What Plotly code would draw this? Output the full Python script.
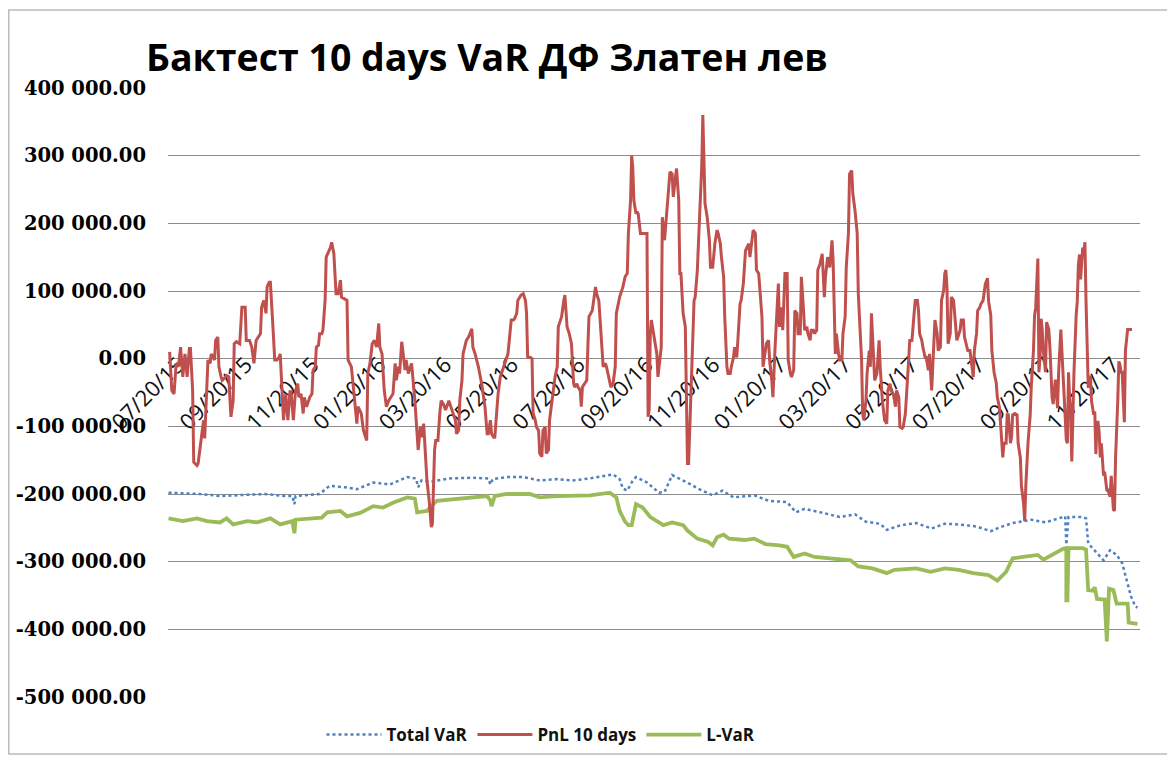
import pandas as pd
import plotly.graph_objects as go

# ---------------- data (day offsets from 2015-07-20, values in thousands) -------------
base_date = "2015-07-20"

pnl_day = [-4, -2, 0, 2, 4, 6, 8, 10, 12, 14, 15, 17, 18, 21, 22, 24, 25, 27, 28, 30, 31, 33, 34, 37, 38, 40, 41, 43, 44, 47, 48, 50, 52, 54, 55, 57, 60, 62, 65, 66, 69, 71, 73, 75, 77, 79, 80, 82, 84, 85, 87, 88, 90, 92, 94, 96, 97, 99, 100, 102, 104, 106, 107, 109, 111, 113, 114, 116, 118, 119, 121, 123, 124, 126, 127, 129, 130, 132, 133, 135, 136, 138, 139, 143, 144, 146, 148, 150, 152, 153, 158, 159, 162, 165, 167, 168, 171, 173, 174, 176, 177, 179, 181, 183, 185, 187, 188, 190, 192, 194, 196, 198, 200, 202, 203, 205, 206, 208, 211, 212, 214, 217, 219, 220, 222, 223, 225, 226, 228, 229, 231, 233, 235, 236, 238, 239, 241, 243, 244, 246, 248, 251, 253, 255, 257, 258, 260, 261, 263, 264, 266, 267, 269, 270, 272, 273, 275, 278, 281, 284, 286, 287, 289, 290, 292, 293, 295, 296, 298, 301, 304, 305, 308, 310, 311, 313, 314, 317, 319, 321, 322, 323, 325, 327, 328, 330, 331, 333, 334, 336, 337, 339, 340, 342, 343, 345, 346, 348, 350, 351, 353, 354, 356, 357, 358, 359, 361, 363, 365, 366, 368, 369, 371, 372, 373, 375, 377, 378, 379, 382, 383, 385, 386, 388, 390, 391, 392, 394, 395, 397, 399, 401, 403, 404, 406, 407, 410, 412, 414, 415, 417, 418, 419, 420, 422, 423, 424, 426, 432, 433, 434, 435, 436, 438, 439, 441, 442, 443, 445, 446, 448, 449, 451, 453, 455, 456, 458, 459, 461, 462, 463, 464, 465, 467, 468, 469, 470, 472, 473, 475, 476, 478, 480, 482, 483, 484, 485, 487, 489, 490, 492, 494, 496, 497, 499, 500, 502, 503, 505, 506, 508, 509, 511, 512, 514, 515, 517, 518, 520, 522, 525, 526, 528, 529, 531, 532, 534, 535, 537, 538, 540, 541, 543, 544, 546, 547, 549, 550, 552, 553, 555, 556, 558, 560, 561, 563, 564, 566, 567, 569, 570, 572, 573, 575, 576, 578, 579, 581, 582, 584, 585, 587, 588, 590, 592, 594, 595, 597, 599, 601, 602, 604, 605, 607, 608, 610, 611, 613, 614, 616, 617, 619, 620, 622, 624, 625, 627, 628, 629, 630, 632, 633, 635, 636, 637, 639, 640, 642, 644, 645, 647, 649, 651, 652, 654, 655, 657, 659, 660, 662, 663, 665, 666, 668, 669, 671, 672, 674, 676, 677, 679, 680, 681, 683, 684, 686, 687, 689, 690, 692, 693, 695, 697, 698, 700, 701, 703, 704, 705, 706, 707, 709, 710, 712, 713, 715, 716, 718, 719, 721, 722, 724, 725, 727, 728, 730, 731, 733, 734, 736, 737, 739, 741, 743, 744, 746, 747, 749, 751, 752, 754, 755, 757, 758, 760, 761, 762, 764, 765, 766, 768, 770, 771, 773, 774, 776, 777, 778, 779, 780, 782, 783, 785, 786, 787, 788, 789, 790, 791, 792, 793, 794, 795, 796, 797, 799, 800, 801, 802, 803, 804, 805, 807, 808, 810, 811, 813, 814, 815, 816, 817, 818, 819, 820, 821, 822, 824, 825, 826, 827, 828, 830, 831, 832, 833, 834, 835, 836, 837, 838, 840, 841, 842, 843, 844, 845, 846, 847, 849, 850, 851, 852, 853, 855, 856, 857, 858, 859, 860, 862, 863, 864, 865, 866, 867, 868, 869, 871, 873, 875]
pnl_k = [10, -47, -52, -7, -12, 17, -27, 7, -27, 15, 15, -47, -153, -158, -155, -126, -116, -91, -118, -52, -2, -7, 7, -2, 27, 32, -12, -27, -32, -27, -25, -27, -86, -62, 22, 25, 22, 76, 76, 27, 27, 17, -7, 27, 32, 37, 76, 86, 67, 106, 113, 113, 57, -2, -2, 2, 7, -47, -91, -52, -91, -47, -52, -91, -47, -37, -57, -52, -81, -57, -71, -62, -57, -52, -17, -12, 17, 20, 37, 37, 42, 86, 150, 165, 172, 155, 96, 96, 116, 91, 86, -2, -12, -62, -96, -71, -81, -106, -111, -121, -22, -7, 22, 27, 17, 52, 17, 7, -47, -71, -62, -57, -52, -7, -32, -12, -22, 25, -17, -2, -22, -7, -37, -62, -111, -135, -101, -116, -96, -126, -180, -209, -249, -244, -135, -121, -121, -76, -62, -67, -76, -62, -71, -81, -91, -111, -106, -62, -32, 7, 22, 27, 32, 37, 44, 17, 7, -12, -37, -71, -111, -111, -91, -111, -116, -116, -76, -52, -27, -12, 2, 7, 57, 57, 59, 67, 86, 94, 96, 86, 67, 2, 2, 0, -81, -91, -101, -106, -140, -145, -106, -101, -140, -135, -91, -67, -52, -27, -12, 47, 57, 62, 86, 94, 71, 47, 37, 22, -37, -42, -37, -42, -47, -71, -42, -37, -32, 17, 62, 71, 86, 106, 96, 86, 37, 12, -12, -7, -12, -27, -42, -37, -12, 67, 81, 91, 106, 121, 126, 185, 234, 300, 283, 234, 214, 217, 214, 185, 185, -86, -76, 37, 57, 37, 25, 7, -27, -12, 17, 209, 175, 195, 234, 276, 273, 239, 268, 281, 234, 126, 126, 86, 67, 47, -62, -155, -155, -57, 12, 86, 91, 131, 209, 283, 360, 293, 229, 209, 175, 135, 135, 170, 190, 185, 170, 150, 121, 62, -12, -22, -22, -12, 2, 17, 2, 27, 81, 86, 111, 160, 170, 150, 175, 190, 185, 131, 126, 106, 62, -12, 7, 22, 27, -2, -32, -57, 17, 47, 111, 47, 76, 42, 126, 126, -2, -22, -27, -17, 71, 67, 37, 37, 121, 71, 42, 47, 37, 27, 42, 42, 37, 42, 131, 140, 155, 91, 121, 150, 135, 175, 145, 7, 37, 7, -2, -2, 37, 62, 135, 185, 273, 278, 244, 219, 185, 96, 37, -2, -81, -91, -62, -22, 12, -12, 67, -12, -32, -22, 27, -12, -62, -91, -96, -47, -37, -47, -52, -71, -47, -57, -101, -103, -101, -81, -47, -2, 27, 27, 67, 86, 86, 71, 37, 27, 17, 2, 2, -17, 7, -47, -12, 57, 37, 12, 17, 86, 101, 126, 131, 106, 22, 37, 91, 86, 67, 27, 32, 42, 57, 57, 32, 17, 12, 12, -2, -27, 12, 37, 71, 76, 81, 86, 110, 119, 85, 64, 12, -20, -36, -57, -73, -104, -146, -125, -125, -83, -83, -125, -115, -83, -81, -83, -125, -146, -188, -215, -240, -188, -152, -125, -83, -41, 12, 64, 75, 122, 148, -20, 1, 59, 43, 12, -9, -20, 54, 43, 17, -20, -57, -67, -41, -31, -73, -20, 43, 12, -52, -73, -120, -125, -20, -57, -78, -152, -57, -20, 64, 85, 138, 154, 117, 164, 159, 172, 85, 12, -41, -41, -25, -62, -83, -78, -141, -94, -94, -109, -146, -125, -173, -167, -178, -194, -194, -204, -173, -209, -223, -225, -146, -62, -4, -9, -20, -20, -67, -94, 12, 43, 43, 43]

total_var_day = [-5, 24, 42, 60, 83, 101, 108, 110, 111, 133, 142, 156, 167, 182, 197, 213, 221, 223, 226, 234, 252, 273, 287, 289, 291, 304, 319, 334, 350, 364, 380, 401, 407, 410, 414, 419, 422, 432, 443, 448, 455, 471, 480, 492, 501, 511, 530, 543, 560, 568, 576, 593, 608, 622, 632, 645, 651, 664, 678, 692, 704, 717, 733, 746, 753, 766, 783, 796, 808, 814, 815, 817, 830, 833, 835, 843, 849, 855, 861, 866, 871, 874, 878, 880]
total_var_k = [-198, -200, -203, -202, -200, -203, -203, -215, -203, -200, -188, -190, -193, -183, -186, -175, -177, -190, -180, -182, -177, -176, -177, -186, -178, -175, -175, -180, -178, -180, -177, -171, -178, -192, -195, -180, -175, -183, -198, -197, -172, -185, -193, -202, -195, -205, -202, -210, -212, -227, -222, -228, -234, -230, -241, -244, -253, -246, -243, -251, -244, -245, -248, -255, -250, -243, -238, -242, -236, -233, -275, -234, -234, -236, -273, -288, -298, -283, -290, -302, -332, -351, -366, -368]

lvar_day = [-5, 8, 21, 30, 42, 48, 54, 67, 76, 88, 97, 108, 110, 111, 135, 140, 152, 158, 170, 182, 191, 200, 213, 220, 222, 231, 240, 268, 286, 289, 290, 293, 304, 325, 334, 350, 380, 398, 404, 407, 412, 415, 418, 422, 428, 435, 447, 455, 465, 469, 478, 488, 492, 496, 502, 507, 521, 530, 540, 553, 560, 566, 576, 585, 599, 618, 625, 638, 651, 658, 678, 691, 704, 717, 730, 744, 752, 760, 766, 783, 789, 794, 802, 812, 815, 815, 816, 817, 830, 833, 835, 839, 841, 843, 850, 852, 854, 858, 861, 871, 872, 880]
lvar_k = [-236, -240, -236, -240, -242, -236, -245, -240, -242, -236, -245, -240, -258, -238, -235, -227, -225, -233, -228, -218, -220, -213, -205, -207, -227, -225, -210, -205, -203, -210, -218, -203, -200, -200, -205, -203, -202, -198, -205, -225, -241, -246, -246, -215, -220, -234, -246, -242, -246, -254, -266, -271, -276, -264, -260, -266, -268, -266, -274, -276, -278, -293, -288, -293, -295, -298, -307, -310, -317, -312, -310, -315, -310, -312, -317, -320, -328, -315, -295, -292, -290, -297, -290, -281, -280, -357, -357, -280, -280, -282, -342, -343, -338, -355, -356, -418, -340, -342, -362, -362, -390, -392]

series_names = ["Total VaR", "PnL 10 days", "L-VaR"]
y_ticks = [400000, 300000, 200000, 100000, 0, -100000, -200000, -300000, -400000, -500000]
title_text = "Бактест 10 days VaR ДФ Златен лев"

# ---------------- build ----------------
def to_dates(days):
    return pd.Timestamp(base_date) + pd.to_timedelta(days, unit="D")

def to_values(k):
    return [v * 1000 for v in k]

BLUE = "#4F81BD"
RED = "#C0504D"
GREEN = "#9BBB59"

fig = go.Figure()
fig.add_trace(go.Scatter(x=to_dates(total_var_day), y=to_values(total_var_k), name=series_names[0],
                         mode="lines", line=dict(color=BLUE, width=2.5, dash="dot"), legendrank=1))
fig.add_trace(go.Scatter(x=to_dates(lvar_day), y=to_values(lvar_k), name=series_names[2],
                         mode="lines", line=dict(color=GREEN, width=3.8), legendrank=3))
fig.add_trace(go.Scatter(x=to_dates(pnl_day), y=to_values(pnl_k), name=series_names[1],
                         mode="lines", line=dict(color=RED, width=3), legendrank=2))

# page body adds an 8px offset; figure coordinates = screen - 8
OFF = 8
W, H = 1175 - OFF, 758 - OFF
ml, mr, mt, mb = 168 - OFF, 35, 88 - OFF, 61
pw, ph = W - ml - mr, H - mt - mb

def px_x(sx):
    return (sx - OFF - ml) / pw

def px_y(sy):
    return (H - mb - (sy - OFF)) / ph

fig.update_layout(
    width=W, height=H,
    margin=dict(l=ml, r=mr, t=mt, b=mb, autoexpand=False),
    paper_bgcolor="white", plot_bgcolor="white",
    title=dict(text=title_text, x=138 / W, xanchor="left", xref="container",
               y=1 - 50 / H, yanchor="middle", yref="container",
               font=dict(family="Open Sans", size=37.5, color="black", weight="bold")),
    legend=dict(orientation="h", x=px_x(541), xanchor="center", y=px_y(735), yanchor="middle",
                font=dict(family="Open Sans", size=17, color="#111", weight="bold"),
                bgcolor="rgba(0,0,0,0)", traceorder="normal", itemwidth=55),
    showlegend=True,
    shapes=[dict(type="rect", xref="paper", yref="paper",
                 x0=px_x(8.8), x1=px_x(1169), y0=px_y(754), y1=px_y(10),
                 line=dict(color="#BBBBBB", width=1.5), layer="below")],
)

fig.update_xaxes(
    type="date", automargin=False,
    range=[pd.Timestamp(base_date) - pd.Timedelta(days=5.5), pd.Timestamp(base_date) + pd.Timedelta(days=882.3)],
    tick0=base_date, dtick="M2", tickformat="%m/%d/%y", tickangle=-45,
    tickfont=dict(family="Open Sans", size=22, color="#111"),
    showgrid=False, showline=False, ticks="", anchor="free", position=5 / 9,
    ticklabelstandoff=-12, ticklabelshift=4,
    layer="below traces",
)
fig.update_yaxes(
    range=[-500000, 400000], tickvals=y_ticks, automargin=False,
    ticktext=[f"{v:,.2f}".replace(",", " ") for v in y_ticks],
    tickfont=dict(family="DejaVu Serif", size=19.5, color="black", weight="bold"),
    showgrid=True, gridcolor="#8C8C8C", gridwidth=1,
    zeroline=True, zerolinecolor="#8C8C8C", zerolinewidth=1,
    showline=False, ticks="", ticklabelstandoff=21,
)

fig.write_html("out.html")
